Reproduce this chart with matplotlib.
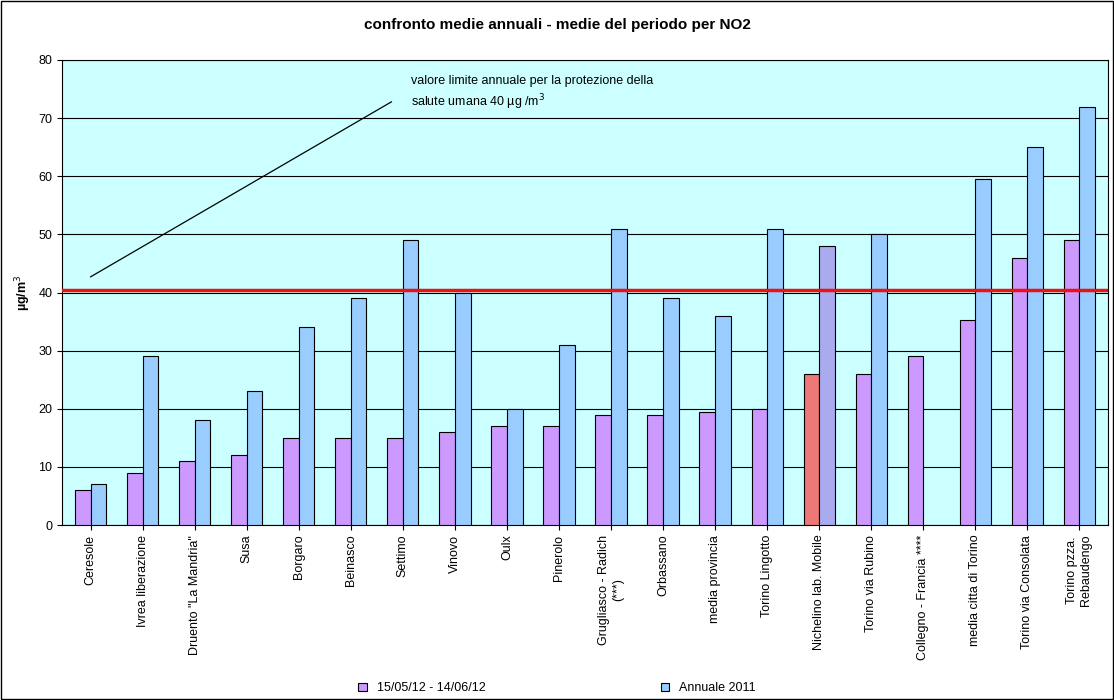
import matplotlib.pyplot as plt
import numpy as np

stations = ['Ceresole', 'Ivrea liberazione', 'Druento "La Mandria"', 'Susa', 'Borgaro',
            'Beinasco', 'Settimo', 'Vinovo', 'Oulx', 'Pinerolo',
            'Grugliasco - Radich\n(***)', 'Orbassano', 'media provincia', 'Torino Lingotto',
            'Nichelino lab. Mobile', 'Torino via Rubino', 'Collegno - Francia ****',
            'media citta di Torino', 'Torino via Consolata', 'Torino pzza.\nRebaudengo']
periodo = [6, 9, 11, 12, 15, 15, 15, 16, 17, 17, 19, 19, 19.4, 20, 26, 26, 29, 35.3, 46, 49]
annuale = [7, 29, 18, 23, 34, 39, 49, 40, 20, 31, 51, 39, 36, 51, 48, 50, np.nan, 59.5, 65, 72]
limite = 40.5

fig = plt.figure(figsize=(11.14, 7), dpi=100)
ax = fig.add_axes([62/1114, 1-525/700, (1108-62)/1114, 465/700])
ax.set_facecolor('#ccffff')
fig.patches.append(plt.Rectangle((0.001, 0.002), 0.998, 0.996, transform=fig.transFigure,
                                 fill=False, ec='black', lw=1))

x = np.arange(len(stations))
w = 0.3
pcols = ['#cc99ff'] * len(x)
bcols = ['#99ccff'] * len(x)
pcols[14] = '#ee7777'
bcols[14] = '#aaaaee'
ax.bar(x - w/2, periodo, w, color=pcols, edgecolor='black', lw=0.8, zorder=3,
       label='15/05/12 - 14/06/12')
ax.bar(x + w/2, annuale, w, color=bcols, edgecolor='black', lw=0.8, zorder=3,
       label='Annuale 2011')
ax.axhline(limite, color='#ee1111', lw=2.5, zorder=4)

ax.set_ylim(0, 80)
ax.set_xlim(-0.55, len(x) - 0.45)
ax.set_yticks(range(0, 81, 10))
ax.yaxis.grid(True, color='black', lw=0.8, zorder=0)
ax.set_xticks(x)
ax.set_xticklabels(stations, rotation=90, fontsize=9, family='Liberation Sans')
ax.tick_params(axis='y', labelsize=9)
for t in ax.get_yticklabels():
    t.set_family('Liberation Sans')
ax.set_ylabel('µg/m$^3$', fontsize=9, fontweight='bold', family='Liberation Sans')

ax.plot([0, 5.78], [42.7, 72.8], color='black', lw=0.9, zorder=5)
ax.text(6.15, 71.0, 'valore limite annuale per la protezione della\nsalute umana 40 µg /m$^3$',
        fontsize=9, family='Liberation Sans', va='bottom', linespacing=1.4)

fig.suptitle('confronto medie annuali - medie del periodo per NO2', y=0.975,
             fontsize=11, fontweight='bold', family='Liberation Sans')
fig.legend(loc='lower center', ncol=2, frameon=False, fontsize=9,
           prop={'family': 'Liberation Sans', 'size': 9},
           bbox_to_anchor=(0.5, -0.008), handlelength=0.7, handleheight=0.7,
           columnspacing=14)

fig.savefig('out.png', dpi=100)
